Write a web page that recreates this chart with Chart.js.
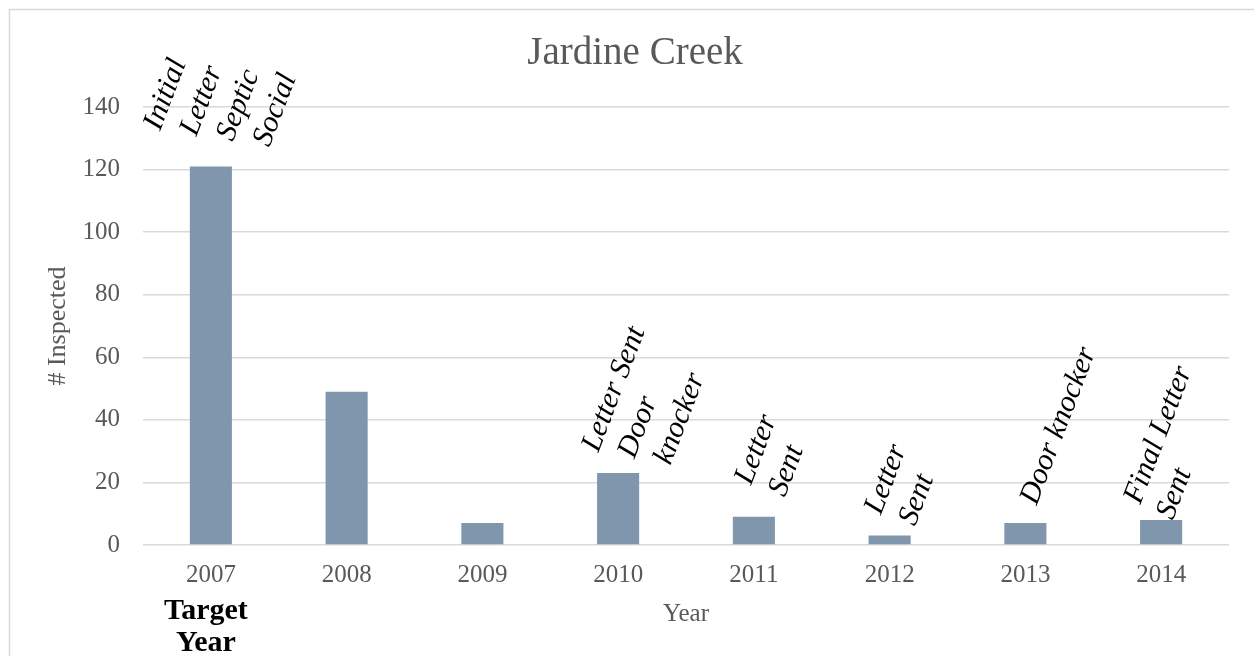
<!DOCTYPE html>
<html>
<head>
<meta charset="utf-8">
<script src="https://cdn.jsdelivr.net/npm/chart.js@4/dist/chart.umd.min.js"></script>
<style>
  html, body { margin: 0; padding: 0; background: #ffffff; }
  #wrap { width: 1254px; height: 656px; position: relative; }
</style>
</head>
<body>
<div id="wrap"><canvas id="c" width="1254" height="656"></canvas></div>
<script>
// ---- data ----
const categories = ["2007", "2008", "2009", "2010", "2011", "2012", "2013", "2014"];
const inspected = [121, 49, 7, 23, 9, 3, 7, 8];
const yTicks = [0, 20, 40, 60, 80, 100, 120, 140];
const annotationTexts = [
  ["Initial", "Letter", "Septic", "Social"],
  [],
  [],
  ["Letter Sent", "Door", "knocker"],
  ["Letter", "Sent"],
  ["Letter", "Sent"],
  ["Door knocker"],
  ["Final Letter", "Sent"]
];
const chartTitle = "Jardine Creek";
const yTitle = "# Inspected";
const xTitle = "Year";
const targetLabel = ["Target", "Year"];

// ---- layout: first-line baseline start relative to bar top centre, and per-line shift along text ----
const annotationLayout = [
  [-51, -35, 8], [0, 0, 0], [0, 0, 0], [-20, -20, 7], [-3, -31, 1], [-9, -20, 2], [11, -17, 0], [-21, -15, -3]
];

const SERIF = "'Liberation Serif', 'DejaVu Serif', serif";
const GREY = "#595959";
const GRID = "#d9d9d9";

const decorPlugin = {
  id: 'decor',
  beforeDraw(chart) {
    const ctx = chart.ctx;
    ctx.save();
    ctx.strokeStyle = GRID;
    ctx.lineWidth = 1.5;
    ctx.beginPath();
    ctx.moveTo(9.5, 700);
    ctx.lineTo(9.5, 9.5);
    ctx.lineTo(1300, 9.5);
    ctx.stroke();
    ctx.restore();
  },
  afterDatasetsDraw(chart) {
    const ctx = chart.ctx;
    const xs = chart.scales.x, ys = chart.scales.y;
    ctx.save();
    // chart title
    ctx.fillStyle = GREY;
    ctx.font = "39px " + SERIF;
    ctx.textAlign = "center";
    ctx.textBaseline = "middle";
    ctx.fillText(chartTitle, 635, 54);

    ctx.fillStyle = "#000000";
    ctx.font = "italic 30px " + SERIF;
    ctx.textBaseline = "alphabetic";
    ctx.textAlign = "left";
    const ang = -69 * Math.PI / 180;
    const lh = 36;
    annotationTexts.forEach((lines, i) => {
      if (!lines.length) return;
      const [dx, dy, shift] = annotationLayout[i];
      const ax = xs.getPixelForValue(i) + dx;
      const ay = ys.getPixelForValue(inspected[i]) + dy;
      ctx.save();
      ctx.translate(ax, ay);
      ctx.rotate(ang);
      lines.forEach((l, k) => {
        ctx.fillText(l, k * shift, k * lh);
      });
      ctx.restore();
    });
    // Target Year label under first category
    ctx.font = "bold 30px " + SERIF;
    ctx.textAlign = "center";
    ctx.textBaseline = "middle";
    const tx = xs.getPixelForValue(0) - 5;
    ctx.fillText(targetLabel[0], tx, 611);
    ctx.fillText(targetLabel[1], tx, 643);
    ctx.restore();
  }
};

new Chart(document.getElementById('c'), {
  type: 'bar',
  data: {
    labels: categories,
    datasets: [{
      data: inspected,
      backgroundColor: "#7f96ac",
      borderWidth: 0,
      categoryPercentage: 1.0,
      barPercentage: 0.31
    }]
  },
  options: {
    responsive: false,
    animation: false,
    devicePixelRatio: 1,
    layout: { padding: { left: 10, right: 25, top: 107, bottom: 0 } },
    plugins: {
      legend: { display: false },
      tooltip: { enabled: false },
      title: { display: false }
    },
    scales: {
      x: {
        grid: { display: false, drawTicks: false },
        border: { display: false },
        ticks: { color: GREY, font: { family: SERIF, size: 25 }, padding: 15, maxRotation: 0 },
        title: { display: true, text: xTitle, color: GREY, font: { family: SERIF, size: 25 }, padding: { top: 0, bottom: 27 } },
        afterFit(scale) { scale.height = 111; }
      },
      y: {
        min: 0, max: 140,
        afterBuildTicks(scale) { scale.ticks = yTicks.map(v => ({ value: v })); },
        grid: { color: GRID, lineWidth: 1.5, drawTicks: false },
        border: { display: false },
        ticks: { color: GREY, font: { family: SERIF, size: 25 }, padding: 23 },
        title: { display: true, text: yTitle, color: GREY, font: { family: SERIF, size: 26 }, padding: { top: 33, bottom: 0 } },
        afterFit(scale) { scale.width = 133; }
      }
    }
  },
  plugins: [decorPlugin]
});
</script>
</body>
</html>
